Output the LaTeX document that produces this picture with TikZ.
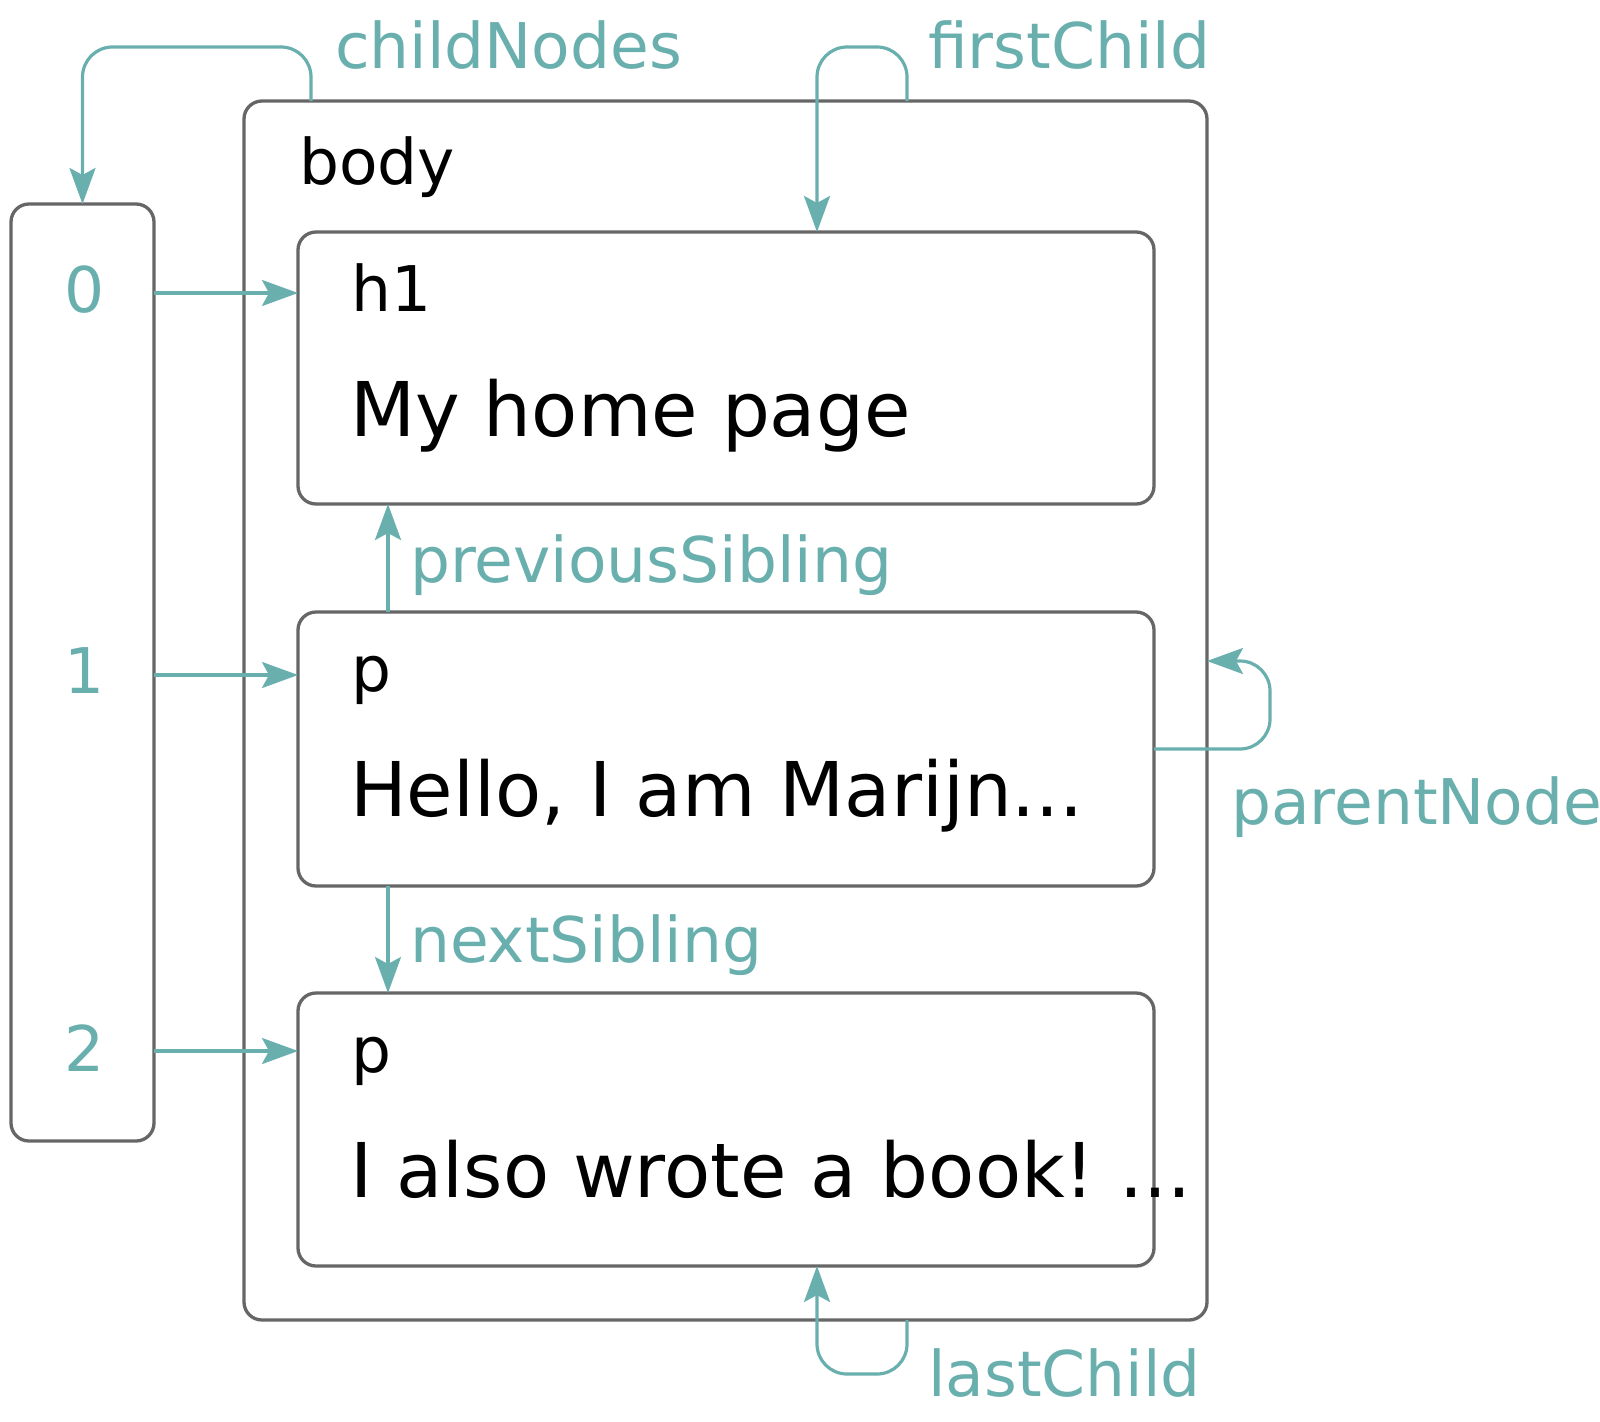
\documentclass[tikz,border=0pt]{standalone}
\usepackage{fontspec}
\setmainfont{DejaVu Sans}
\usetikzlibrary{arrows.meta}
\definecolor{teal}{HTML}{69AFAE}
\definecolor{frame}{HTML}{666666}
\frenchspacing

\begin{document}
\begin{tikzpicture}[x=1pt,y=-1pt,
    box/.style={draw=frame,line width=3.3pt,rounded corners=18pt,anchor=north west,inner sep=0pt,outer sep=0pt},
    tag/.style={anchor=base west,inner sep=0pt,font=\fontsize{63}{70}\selectfont},
    big/.style={anchor=base west,inner sep=0pt,font=\fontsize{75.5}{84}\selectfont},
    lbl/.style={tag,text=teal},
    idx/.style={anchor=base,inner sep=0pt,text=teal,font=\fontsize{63}{70}\selectfont},
    link/.style={draw=teal,line width=3.2pt,rounded corners=30pt,-{Stealth[length=36pt,width=26pt,inset=7pt]}}]
      \useasboundingbox (0,0) rectangle (1600,1421);

      % boxes
      \node[box,minimum width=143pt,minimum height=937pt]  (arr)  at (11,204)  {};
      \node[box,minimum width=963pt,minimum height=1219pt] (body) at (244,101) {};
      \node[box,minimum width=856pt,minimum height=272pt]  (h1)   at (298,232) {};
      \node[box,minimum width=856pt,minimum height=274pt]  (p1)   at (298,612) {};
      \node[box,minimum width=856pt,minimum height=273pt]  (p2)   at (298,993) {};

      % texts
      \node[tag] (tbody) at (299,184)  {body};
      \node[tag] (th1)   at (351,311)  {h1};
      \node[big] (bh1)   at (350,436)  {My home page};
      \node[tag] (tp1)   at (351,691)  {p};
      \node[big] (bp1)   at (350,816)  {Hello, I am Marijn...};
      \node[tag] (tp2)   at (351,1072) {p};
      \node[big] (bp2)   at (350,1197) {I also wrote a book! ...};

      % indices
      \node[idx] (i0) at (85,312)  {0};
      \node[idx] (i1) at (85,693)  {1};
      \node[idx] (i2) at (85,1071) {2};
      \coordinate (r0) at (0,293);
      \coordinate (r1) at (0,675);
      \coordinate (r2) at (0,1051);

      % labels
      \node[lbl] (lcn) at (335,68)   {childNodes};
      \node[lbl] (lfc) at (928,68)   {firstChild};
      \node[lbl] (lps) at (410,582)  {previousSibling};
      \node[lbl] (lns) at (410,962)  {nextSibling};
      \node[lbl] (lpn) at (1231,824) {parentNode};
      \node[lbl] (llc) at (928,1396) {lastChild};

      \coordinate (cn) at (arr.north |- 0,47);
      \coordinate (fc) at (817,47);
      \coordinate (pn) at (1270,661);
      \coordinate (lc) at (817,1374);

      \draw[link] ([xshift=67pt]body.north west) |- (cn) -- (arr.north);
      \draw[link] ([xshift=663pt]body.north west) |- (fc) -- ([xshift=519pt]h1.north west);
      \draw[link] ([xshift=663pt]body.south west) |- (lc) -- ([xshift=519pt]p2.south west);
      \draw[link] (p1.east) -| (pn) -- (body.east |- pn);
      \draw[link] ([xshift=90pt]p1.north west) -- ([xshift=90pt]h1.south west);
      \draw[link] ([xshift=90pt]p1.south west) -- ([xshift=90pt]p2.north west);
      \draw[link] (arr.east |- r0) -- (h1.west |- r0);
      \draw[link] (arr.east |- r1) -- (p1.west |- r1);
      \draw[link] (arr.east |- r2) -- (p2.west |- r2);
\end{tikzpicture}
\end{document}
